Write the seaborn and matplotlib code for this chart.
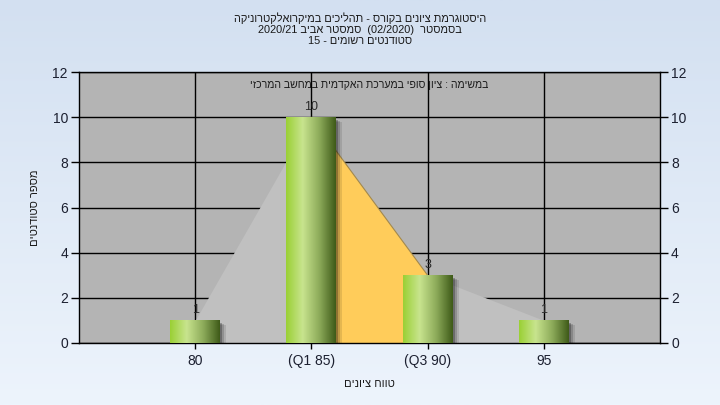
import re
import numpy as np
import matplotlib
matplotlib.use("Agg")
import matplotlib.pyplot as plt
import matplotlib.transforms as mtransforms
import seaborn as sns
from matplotlib.colors import LinearSegmentedColormap
from matplotlib.patches import Rectangle

# ---------------- data ----------------
grades = ["80", "(Q1 85)", "(Q3 90)", "95"]
counts = [1, 10, 3, 1]
q1_idx, q3_idx = 1, 2
y_ticks = [0, 2, 4, 6, 8, 10, 12]

title_lines = [
    "היסטוגרמת ציונים בקורס - תהליכים במיקרואלקטרוניקה",
    "בסמסטר  (02/2020)  סמסטר אביב 2020/21",
    "סטודנטים רשומים - 15",
]
task_title = "במשימה : ציון סופי במערכת האקדמית במחשב המרכזי"
x_title = "טווח ציונים"
y_title = "מספר סטודנטים"


def rtl(s):
    # matplotlib has no bidi: flip to visual order, keep numbers LTR
    r = s[::-1]
    r = re.sub(r"[0-9A-Za-z/.]+", lambda m: m.group(0)[::-1], r)
    return r.translate(str.maketrans("()", ")("))


sns.set_theme(style="white")
plt.rcParams["font.family"] = ["Liberation Sans", "DejaVu Sans"]

fig = plt.figure(figsize=(7.2, 4.05), dpi=100)

# background gradient
bg = fig.add_axes([0, 0, 1, 1], zorder=-5)
bg_cmap = LinearSegmentedColormap.from_list("bg", ["#d3e0f1", "#edf4fc"])
bg.imshow(np.linspace(0, 1, 256).reshape(-1, 1), aspect="auto", cmap=bg_cmap,
          extent=[0, 1, 0, 1])
bg.set_axis_off()

ax = fig.add_axes([79 / 720, 1 - 343 / 405, 581 / 720, 271 / 405], zorder=1)
ax.set_facecolor("#b4b4b4")

pos = np.arange(len(counts))

# area under the histogram outline, Q1..Q3 in orange
ax.fill_between(pos, counts, color="#c0c0c0", lw=0, zorder=1)
seg = slice(q1_idx, q3_idx + 1)
ax.fill_between(pos[seg], np.array(counts)[seg], color="#ffcc5a", lw=0, zorder=1.1)
ax.plot(pos[seg], np.array(counts)[seg], color="#a08850", lw=0.8, zorder=1.2)

sns.barplot(x=grades, y=counts, ax=ax, width=0.43, color="#9ccc3c",
            saturation=1, zorder=3, edgecolor="none", linewidth=0)

bar_cmap = LinearSegmentedColormap.from_list(
    "bar", ["#9ad034", "#c8e48e", "#8dab5a", "#3e5a18"])
grad = np.linspace(0, 1, 256).reshape(1, -1)
for p in ax.patches:
    x0, w, h = p.get_x(), p.get_width(), p.get_height()
    for k, a in enumerate([0.25, 0.16, 0.1]):
        off = mtransforms.ScaledTranslation((2 + 2 * k) / 100, -(3 + 1 * k) / 100,
                                            fig.dpi_scale_trans)
        ax.add_patch(Rectangle((x0, 0), w, h, color="black", alpha=a, lw=0,
                               transform=ax.transData + off, zorder=2.5))
    p.set_facecolor("none")
    ax.imshow(grad, cmap=bar_cmap, aspect="auto", extent=[x0, x0 + w, 0, h],
              zorder=3.1, interpolation="bilinear")
    ax.annotate(f"{int(h)}", (x0 + w / 2, h), xytext=(0, 3),
                textcoords="offset points", ha="center", va="bottom",
                fontsize=9, color="#2a2a2a", zorder=4)

ax.set_xlim(-1, len(grades))
ax.set_ylim(0, 12)
ax.set_yticks(y_ticks)
ax.set_xticks(pos)
ax.set_xticklabels(grades)

ax.grid(True, color="black", lw=1)
ax.set_axisbelow(True)
for s in ax.spines.values():
    s.set_color("black")
    s.set_linewidth(1)

ax.tick_params(axis="y", left=True, right=True, labelright=True, length=6,
               width=1, color="black", labelsize=10, labelcolor="#1c2030", pad=2)
ax.tick_params(axis="x", bottom=True, length=4, width=1, color="black",
               labelsize=10, labelcolor="#1c2030", pad=4)

ax.set_xlabel(rtl(x_title), fontsize=8, color="#1a1a1a", labelpad=8)
ax.set_ylabel(rtl(y_title), fontsize=8, color="#1a1a1a", labelpad=9)

ax.text(0.5, 0.952, rtl(task_title), transform=ax.transAxes, ha="center",
        va="center", fontsize=7.6, color="#1a1a1a", zorder=5)

fig.text(0.5, 0.97, "\n".join(rtl(t) for t in title_lines), ha="center",
         va="top", fontsize=7.9, color="#1a1a1a", linespacing=1.15)

fig.savefig("out.png", dpi=100)
